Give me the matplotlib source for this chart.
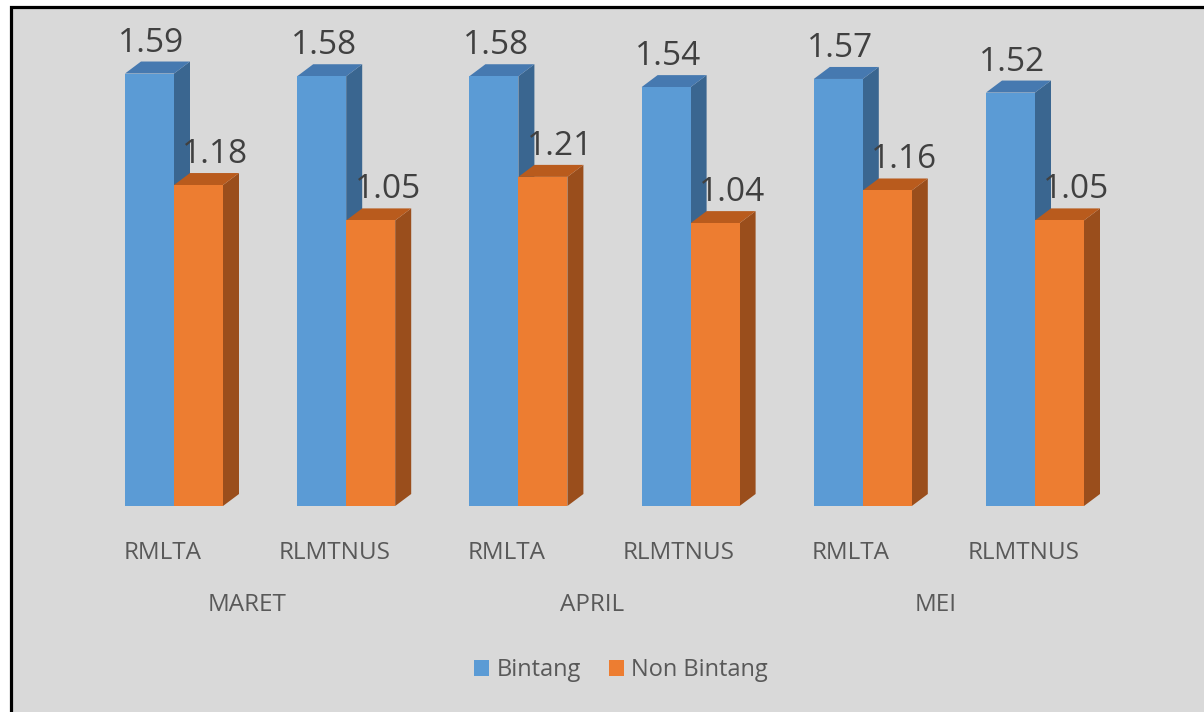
import matplotlib
matplotlib.use('Agg')
import matplotlib.pyplot as plt
import numpy as np
from matplotlib.patches import Polygon, Rectangle, Patch

months = ['MARET', 'APRIL', 'MEI']
categories = ['RMLTA', 'RLMTNUS', 'RMLTA', 'RLMTNUS', 'RMLTA', 'RLMTNUS']
bintang = [1.59, 1.58, 1.58, 1.54, 1.57, 1.52]
non_bintang = [1.18, 1.05, 1.21, 1.04, 1.16, 1.05]
series_names = ['Bintang', 'Non Bintang']

plt.rcParams['font.family'] = ['Open Sans', 'DejaVu Sans']

W, H = 1204, 712
fig = plt.figure(figsize=(W / 100, H / 100), dpi=100)
fig.patch.set_facecolor('white')
fig.add_artist(Rectangle((10.5 / W, -0.2), 1.5, (H - 6.5) / H + 0.2,
                         transform=fig.transFigure, facecolor='#d9d9d9',
                         edgecolor='black', linewidth=2.3, zorder=-10))

px_per_unit_y = 272.0
px_per_cat = 172.2
ax = fig.add_axes([0, 206 / H, 1, 486 / H])
ax.set_ylim(0, 486 / px_per_unit_y)
ax.set_xlim(-174 / px_per_cat, (W - 174) / px_per_cat)
ax.axis('off')
ax.patch.set_alpha(0)

colors = {
    'Bintang': ('#5b9bd5', '#4679b0', '#3a6690'),
    'Non Bintang': ('#ed7d31', '#b95b1d', '#9a4e1c'),
}

x = np.arange(len(categories))
w = 49 / px_per_cat
dx = 16 / px_per_cat
dy = 12 / px_per_unit_y

for k, (name, vals) in enumerate(zip(series_names, [bintang, non_bintang])):
    front, top, side = colors[name]
    left = x - w if k == 0 else x
    base_z = 1 if k == 0 else 4
    ax.bar(left, vals, w, align='edge', color=front, zorder=base_z + 1, linewidth=0)
    for xl, v in zip(left, vals):
        xr = xl + w
        ax.add_patch(Polygon([(xr, 0), (xr + dx, dy), (xr + dx, v + dy), (xr, v)],
                             closed=True, facecolor=side, edgecolor='none', zorder=base_z))
        ax.add_patch(Polygon([(xl, v), (xl + dx, v + dy), (xr + dx, v + dy), (xr, v)],
                             closed=True, facecolor=top, edgecolor='none', zorder=base_z))
    off = 2 if k == 0 else 17
    for xl, v in zip(left, vals):
        ax.annotate(f'{v:.2f}', (xl + w / 2, v + dy), xytext=(off, 10),
                    textcoords='offset pixels', ha='center', va='baseline',
                    fontsize=24, color='#404040', zorder=10, annotation_clip=False)

for i, c in enumerate(categories):
    ax.text(i - 0.068, -47 / px_per_unit_y, c, ha='center', va='center',
            fontsize=17.5, color='#595959', clip_on=False)
for m, name in enumerate(months):
    ax.text(2 * m + 0.5 - 0.075, -99 / px_per_unit_y, name, ha='center', va='center',
            fontsize=17.5, color='#595959', clip_on=False)

handles = [Patch(facecolor=colors[n][0], edgecolor='none') for n in series_names]
fig.legend(handles, series_names, loc='center', bbox_to_anchor=(621 / W, 1 - 670 / H),
           ncol=2, frameon=False, fontsize=17, labelcolor='#595959',
           handlelength=0.65, handleheight=0.65, handletextpad=0.3, columnspacing=1.2)

fig.savefig('out.png', dpi=100, facecolor=fig.get_facecolor())
